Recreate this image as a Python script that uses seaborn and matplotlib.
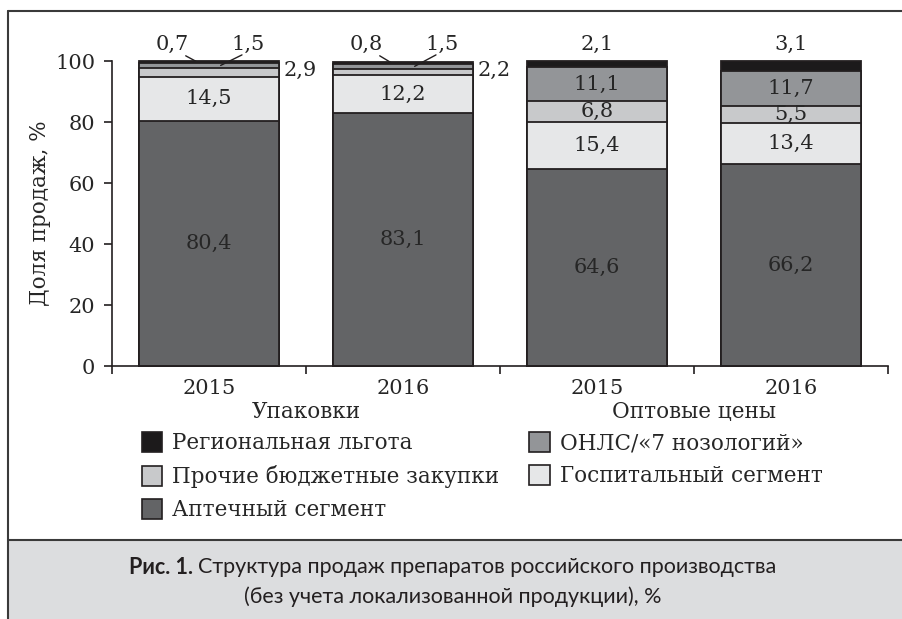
import matplotlib
matplotlib.use("Agg")
import numpy as np
import pandas as pd
import matplotlib.pyplot as plt
import seaborn as sns
from matplotlib.patches import Patch, Rectangle
from matplotlib.lines import Line2D

# --- data (bottom to top of each stack) ---
bar_keys = ["Упаковки 2015", "Упаковки 2016", "Оптовые цены 2015", "Оптовые цены 2016"]
years = ["2015", "2016", "2015", "2016"]
groups = ["Упаковки", "Оптовые цены"]

segments = ["Аптечный сегмент", "Госпитальный сегмент", "Прочие бюджетные закупки",
            "ОНЛС/«7 нозологий»", "Региональная льгота"]
apteka = [80.4, 83.1, 64.6, 66.2]
hospital = [14.5, 12.2, 15.4, 13.4]
other_budget = [2.9, 2.2, 6.8, 5.5]
onls = [1.5, 1.5, 11.1, 11.7]
regional = [0.7, 0.8, 2.1, 3.1]

colors = {
    "Аптечный сегмент": "#636466",
    "Госпитальный сегмент": "#e6e7e8",
    "Прочие бюджетные закупки": "#c8c9cb",
    "ОНЛС/«7 нозологий»": "#939598",
    "Региональная льгота": "#1c1a1b",
}
EDGE = "#231f20"
SERIF = "DejaVu Serif"
FS = 15
FS_LEG = 15.5


def build_frame():
    df = pd.DataFrame({"bar": bar_keys}).set_index("bar")
    for name, vals in zip(segments, [apteka, hospital, other_budget, onls, regional]):
        df[name] = vals
    cum = df.cumsum(axis=1)
    return df, cum


def fmt(v):
    return f"{v:.1f}".replace(".", ",")


def main():
    sns.set_style("ticks")
    plt.rcParams["font.family"] = [SERIF]
    df, cum = build_frame()

    fig = plt.figure(figsize=(9.02, 6.19), dpi=100)
    ax = fig.add_axes([112 / 902, 1 - 366 / 619, 776 / 902, 305 / 619])

    # stacked bars: draw cumulative totals from the top layer down
    for name in segments[::-1]:
        sns.barplot(x=bar_keys, y=cum[name].values, order=bar_keys, color=colors[name],
                    saturation=1, edgecolor=EDGE, linewidth=1.3, width=0.72,
                    errorbar=None, ax=ax)
    for p in ax.patches:
        p.set_clip_on(False)

    ax.set_xlim(-0.5, 3.5)
    ax.set_ylim(0, 100)
    ax.set_yticks(np.arange(0, 101, 20))
    ax.set_xticks(range(len(years)), years)
    ax.set_xticks(np.arange(-0.5, 4, 1), minor=True)
    ax.tick_params(axis="x", which="major", length=0, pad=9, labelsize=FS)
    ax.tick_params(axis="x", which="minor", length=6, width=1.2, direction="out", color=EDGE)
    ax.tick_params(axis="y", length=6, width=1.2, direction="out", color=EDGE, labelsize=FS, pad=6)
    ax.set_xlabel("")
    ax.set_ylabel("Доля продаж, %", fontsize=FS_LEG, labelpad=3)
    sns.despine(ax=ax)
    for s in ["left", "bottom"]:
        ax.spines[s].set_color(EDGE)
        ax.spines[s].set_linewidth(1.2)

    # group names under the year labels
    for i, g in enumerate(groups):
        ax.text(2 * i + 0.5, -15, g, ha="center", va="center", fontsize=FS_LEG)

    # value labels
    for b in range(len(bar_keys)):
        for name in segments:
            v = df[name].iloc[b]
            mid = cum[name].iloc[b] - v / 2
            top = cum[name].iloc[b]
            small = b < 2
            if name == "Региональная льгота" and small:
                ax.text(b - 0.19, 105.5, fmt(v), ha="center", va="center", fontsize=FS)
                ax.plot([b - 0.12, b - 0.06], [101.7, top - v / 2], color=EDGE, lw=1, clip_on=False)
            elif name == "ОНЛС/«7 нозологий»" and small:
                ax.text(b + 0.2, 105.5, fmt(v), ha="center", va="center", fontsize=FS)
                ax.plot([b + 0.17, b + 0.06], [102.0, mid], color=EDGE, lw=1, clip_on=False)
            elif name == "Прочие бюджетные закупки" and small:
                ax.text(b + 0.385, mid + 0.6, fmt(v), ha="left", va="center", fontsize=FS)
            elif name == "Региональная льгота":
                ax.text(b, 105.5, fmt(v), ha="center", va="center", fontsize=FS)
            else:
                ax.text(b, mid, fmt(v), ha="center", va="center", fontsize=FS)

    # legend
    order = ["Региональная льгота", "Прочие бюджетные закупки", "Аптечный сегмент",
             "ОНЛС/«7 нозологий»", "Госпитальный сегмент"]
    handles = [Patch(facecolor=colors[n], edgecolor=EDGE, linewidth=1.2) for n in order]
    fig.legend(handles, order, ncol=2, loc="upper left",
               bbox_to_anchor=(142 / 902, 1 - 432 / 619), frameon=False,
               fontsize=FS_LEG, handlelength=0.95, handleheight=1.05, handletextpad=0.45,
               labelspacing=0.5, columnspacing=1.4, borderpad=0, borderaxespad=0)

    # frame and caption band
    fig.add_artist(Rectangle((8 / 902, 0), 1, 79 / 619, facecolor="#dcdddf",
                             edgecolor="none", transform=fig.transFigure))
    for xs, ys in [([8 / 902, 1], [1 - 11 / 619] * 2),
                   ([8 / 902, 1], [79 / 619] * 2),
                   ([8 / 902] * 2, [0, 1 - 11 / 619])]:
        fig.add_artist(Line2D(xs, ys, color="#3a3a3a", lw=1.5, transform=fig.transFigure))

    cap_font = ["Lato", "DejaVu Sans"]
    cap_fs = 15.5
    y1 = 1 - 567 / 619
    t_a = fig.text(0, y1, "Рис. 1. ", family=cap_font, fontsize=cap_fs, fontweight="bold",
                   va="center", color="#231f20")
    t_b = fig.text(0, y1, "Структура продаж препаратов российского производства",
                   family=cap_font, fontsize=cap_fs, va="center", color="#231f20")
    fig.text(0.502, 1 - 597 / 619, "(без учета локализованной продукции), %",
             family=cap_font, fontsize=cap_fs, va="center", ha="center", color="#231f20")
    fig.canvas.draw()
    r = fig.canvas.get_renderer()
    wa = t_a.get_window_extent(r).width / fig.bbox.width
    wb = t_b.get_window_extent(r).width / fig.bbox.width
    x0 = 0.502 - (wa + wb) / 2
    t_a.set_x(x0)
    t_b.set_x(x0 + wa)

    fig.savefig("out.png", dpi=100)
    plt.close(fig)


if __name__ == "__main__":
    main()
